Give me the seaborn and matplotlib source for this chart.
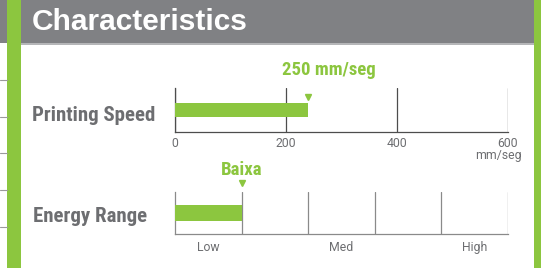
import matplotlib
matplotlib.use("Agg")
import matplotlib.pyplot as plt
import seaborn as sns
from matplotlib.patches import Rectangle
from matplotlib.lines import Line2D

# ---- data ----
title = "Characteristics"
speed_label = "Printing Speed"
speed_value = [240]
speed_callout = "250 mm/seg"
speed_ticks = [0, 200, 400, 600]
speed_unit = "mm/seg"
energy_label = "Energy Range"
energy_value = [1]
energy_callout = "Baixa"
energy_levels = ["Low", "Med", "High"]
energy_level_pos = [0.5, 2.5, 4.5]
energy_grid = [1, 2, 3, 4, 5]

GREEN = "#8cc63f"
HEAD = "#808184"
TXT = "#6d6e71"
NARROW = ["Roboto Condensed", "Roboto", "DejaVu Sans"]
BOLD = ["Liberation Sans", "DejaVu Sans"]
LIGHT = ["Roboto", "DejaVu Sans"]

sns.set_theme(style="white")
plt.rcParams["font.family"] = LIGHT

W, H = 541, 268
fig = plt.figure(figsize=(W / 100, H / 100), dpi=100)
fig.patch.set_facecolor("white")

def px(x0, y0, x1, y1):
    return [x0 / W, 1 - y1 / H, (x1 - x0) / W, (y1 - y0) / H]

def rect(x0, y0, x1, y1, color, z=0):
    fig.patches.append(Rectangle((x0 / W, 1 - y1 / H), (x1 - x0) / W, (y1 - y0) / H,
                                 transform=fig.transFigure, color=color, zorder=z, lw=0))

# ---- decoration ----
rect(0, 0, 7, 43, HEAD)
rect(21, 0, 534, 43, HEAD)
rect(21, 43, 534, 44.5, "#b5b6b8")
rect(7, 0, 21, H, GREEN)
rect(534, 0, W, H, GREEN)
for yy in [80, 117, 153, 190, 227]:
    fig.lines.append(Line2D([0, 7 / W], [1 - yy / H] * 2, transform=fig.transFigure,
                            color="#9a9a9a", lw=0.8))
fig.text(32 / W, 1 - 22 / H, title, color="white", fontsize=21.5, fontweight="bold",
         family=BOLD, va="center", ha="left")

# ---- printing speed ----
ax1 = fig.add_axes(px(175, 88, 508, 132))
sns.barplot(x=speed_value, y=[speed_label], orient="h", color=GREEN, width=0.68,
            saturation=1, ax=ax1, zorder=3, linewidth=0)
ax1.set_xlim(speed_ticks[0], speed_ticks[-1])
ax1.set_ylim(1, -1)
ax1.set_xlabel(""); ax1.set_ylabel("")
ax1.set_yticks([])
ax1.set_xticks(speed_ticks)
ax1.set_xticklabels([str(t) for t in speed_ticks])
ax1.tick_params(axis="x", length=0, pad=3.5, labelsize=8.8, labelcolor=TXT)
ax1.xaxis.grid(True, color="#4d4d4d", lw=0.9)
for s in ["top", "right"]:
    ax1.spines[s].set_visible(False)
for s in ["left", "bottom"]:
    ax1.spines[s].set_color("#4d4d4d"); ax1.spines[s].set_linewidth(0.9)
ax1.set_facecolor("none")
fig.text(522 / W, 1 - 155.5 / H, speed_unit, ha="right", va="center",
         fontsize=8.8, color=TXT)
ax1.plot(speed_value, [-0.6], marker="v", color=GREEN, ms=5, clip_on=False, zorder=4)
ax1.annotate(speed_callout, xy=(speed_value[0], -1), xytext=(15, 13),
             textcoords="offset points", ha="center", va="center", color=GREEN,
             fontsize=13.5, fontweight="bold", family=NARROW, annotation_clip=False)
fig.text(155 / W, 1 - 115 / H, speed_label, color=TXT, fontsize=15, fontweight="bold",
         family=NARROW, ha="right", va="center")

# ---- energy range ----
ax2 = fig.add_axes(px(175, 192, 508, 234))
sns.barplot(x=energy_value, y=[energy_label], orient="h", color=GREEN, width=0.76,
            saturation=1, ax=ax2, zorder=3, linewidth=0)
ax2.set_xlim(0, energy_grid[-1])
ax2.set_ylim(1, -1)
ax2.set_xlabel(""); ax2.set_ylabel("")
ax2.set_yticks([])
ax2.set_xticks(energy_grid)
ax2.set_xticklabels([])
ax2.set_xticks(energy_level_pos, minor=True)
ax2.set_xticklabels(energy_levels, minor=True)
ax2.tick_params(axis="x", which="both", length=0, pad=5, labelsize=8.8, labelcolor=TXT)
ax2.xaxis.grid(True, which="major", color="#8a8a8a", lw=0.9)
for s in ["top", "right"]:
    ax2.spines[s].set_visible(False)
for s in ["left", "bottom"]:
    ax2.spines[s].set_color("#8a8a8a"); ax2.spines[s].set_linewidth(0.9)
ax2.set_facecolor("none")
ax2.plot(energy_value, [-1.42], marker="v", color=GREEN, ms=5, clip_on=False, zorder=4)
ax2.annotate(energy_callout, xy=(energy_value[0], -1), xytext=(0, 16),
             textcoords="offset points", ha="center", va="center", color=GREEN,
             fontsize=13.5, fontweight="bold", family=NARROW, annotation_clip=False)
fig.text(147 / W, 1 - 217 / H, energy_label, color=TXT, fontsize=15, fontweight="bold",
         family=NARROW, ha="right", va="center")

fig.savefig("out.png", dpi=100)
